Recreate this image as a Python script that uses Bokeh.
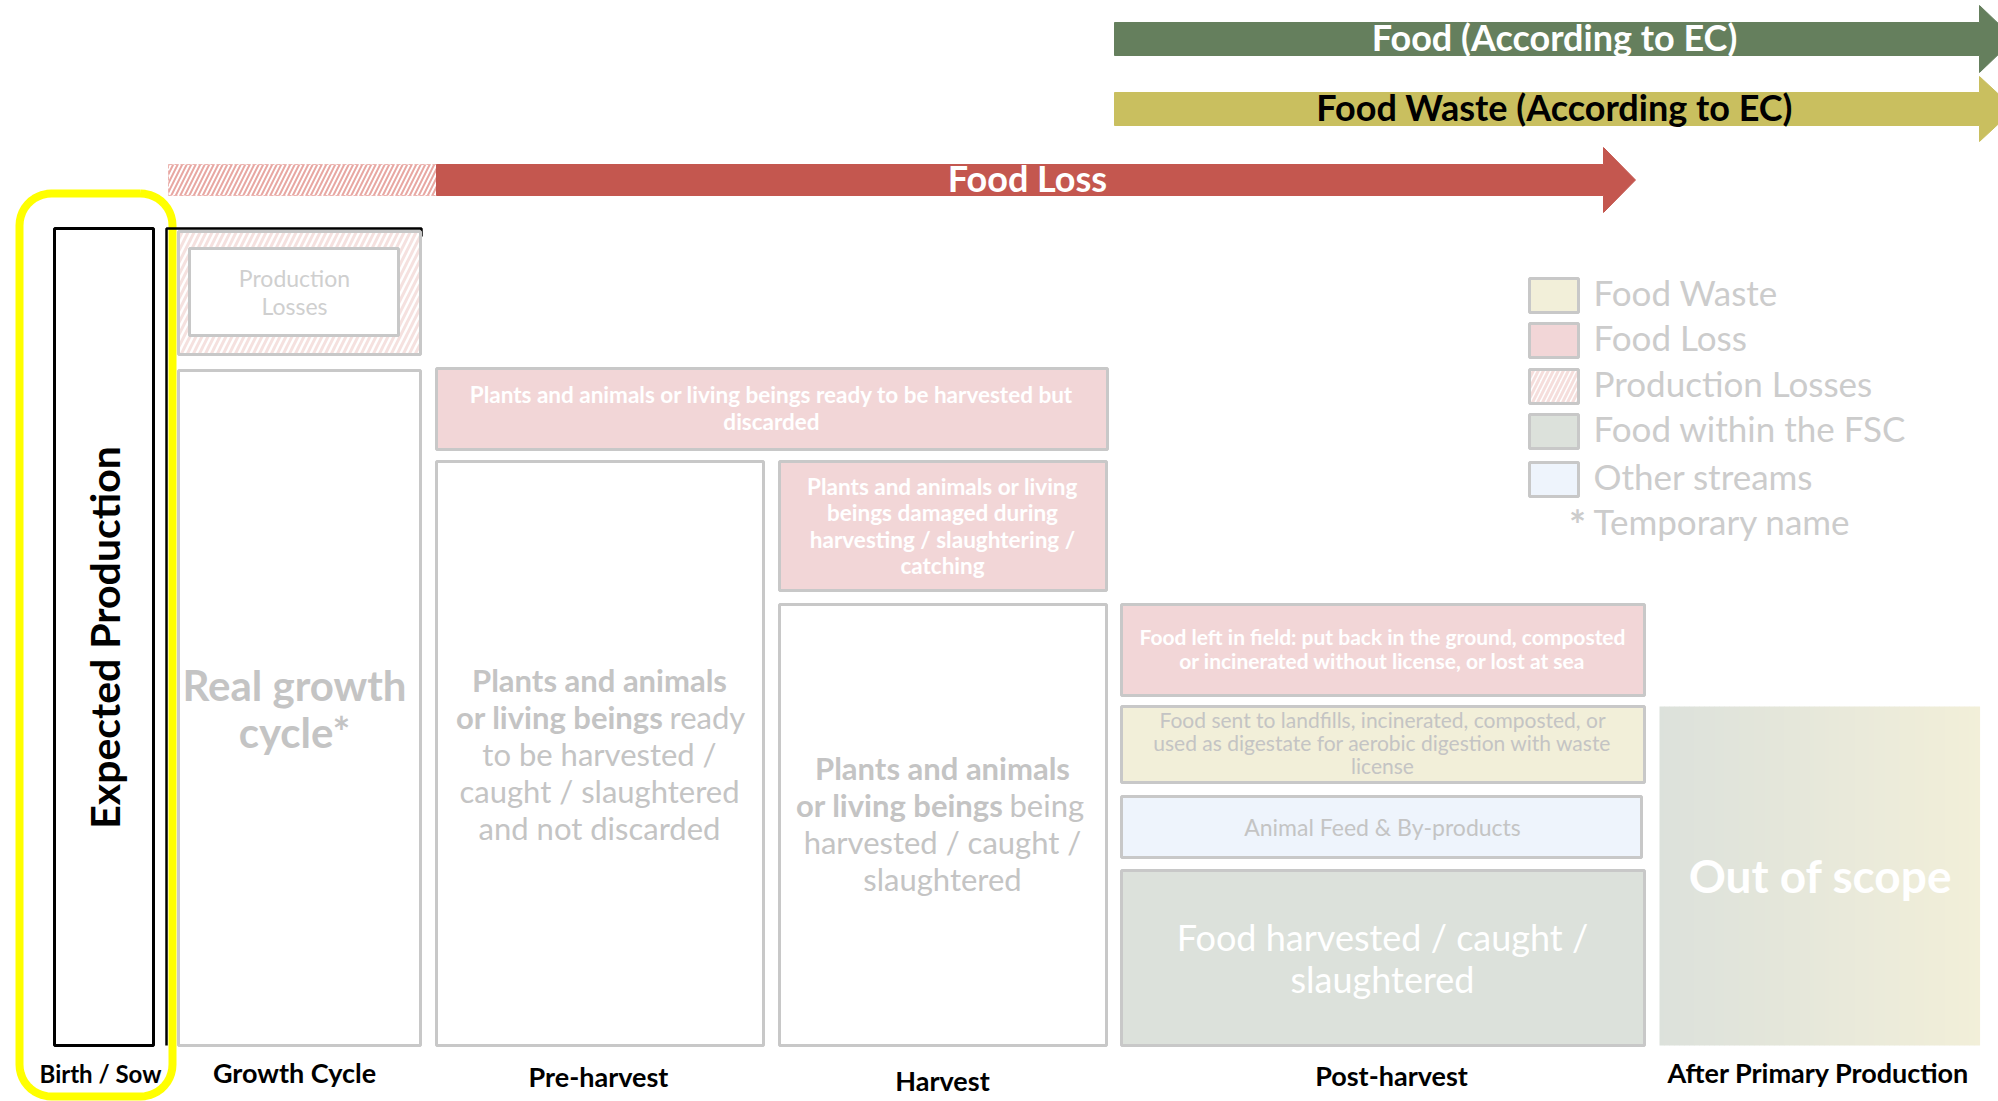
import numpy as np
from bokeh.plotting import figure
from bokeh.models import Range1d
from bokeh.core.properties import value
from bokeh.embed import file_html
from bokeh.resources import INLINE

# ---------------- content ----------------
stages = ["Birth / Sow", "Growth Cycle", "Pre-harvest", "Harvest", "Post-harvest", "After Primary Production"]
flow_labels = ["Food (According to EC)", "Food Waste (According to EC)", "Food Loss"]
legend_labels = ["Food Waste", "Food Loss", "Production Losses", "Food within the FSC", "Other streams"]
legend_note = "Temporary name"
expected_label = "Expected Production"
growth_lines = ["Real growth", "cycle*"]
prod_loss_lines = ["Production", "Losses"]
discard_lines = ["Plants and animals or living beings ready to be harvested but", "discarded"]
damaged_lines = ["Plants and animals or living", "beings damaged during", "harvesting / slaughtering /", "catching"]
left_field_lines = ["Food left in field: put back in the ground, composted", "or incinerated without license, or lost at sea"]
sent_lines = ["Food sent to landfills, incinerated, composted, or", "used as digestate for aerobic digestion with waste", "license"]
feed_label = "Animal Feed & By-products"
harvested_lines = ["Food harvested / caught /", "slaughtered"]
scope_label = "Out of scope"

# ---------------- styles ----------------
GREEN = "#657f5d"
OLIVE = "#c9bf5f"
RED = "#c4574f"
PINK = "#f2d6d7"
CREAM = "#f2efd9"
BLUE = "#eef4fc"
SAGE = "#dce1db"
GREY = "#c8c8c8"
TGREY = "#c4c4c4"
FONT = "Lato"

W, H = 1998, 1101
p = figure(width=W, height=H, output_backend="svg", toolbar_location=None,
           x_range=Range1d(0, W), y_range=Range1d(H, 0),
           x_axis_type=None, y_axis_type=None, min_border=0)
p.outline_line_color = None
p.background_fill_color = "white"
p.border_fill_color = "white"


def txt(x, y, s, size, color, bold=False, align="center", angle=0.0):
    p.text(x=[x], y=[y], text=[s], text_font=value(FONT),
           text_font_size=value(f"{size}px"), text_color=color,
           text_font_style="bold" if bold else "normal",
           text_align=align, text_baseline="middle", angle=angle)


def box(l, r, t, b, fill, line=GREY, lw=3, **kw):
    p.quad(left=[l], right=[r], top=[t], bottom=[b], fill_color=fill,
           line_color=line, line_width=lw, **kw)


def arrow(x0, x1, xt, yb0, yb1, yh0, yh1, color):
    xs = [x0, x1, x1, xt, x1, x1, x0]
    ys = [yb0, yb0, yh0, (yh0 + yh1) / 2, yh1, yb1, yb1]
    p.patch(xs, ys, fill_color=color, line_color=color, line_width=1)


# ---------------- flow arrows ----------------
arrow(1114, 1979, 2014, 22, 55, 5, 72, GREEN)
txt(1554, 36, flow_labels[0], 36, "white", bold=True)
arrow(1114, 1979, 2014, 92, 125, 76, 141, OLIVE)
txt(1554, 106, flow_labels[1], 36, "black", bold=True)
# hatched start of the food loss arrow
box(168, 436, 164, 195, "white", line="#ecb5b1", lw=1, line_dash="4 2",
    hatch_pattern="right_diagonal_line", hatch_color="#e8a7a2", hatch_weight=2, hatch_scale=9)
arrow(436, 1603, 1635, 164, 195, 147, 212, RED)
txt(1027, 177, flow_labels[2], 36, "white", bold=True)

# ---------------- birth / sow ----------------
def rounded(l, r, t, b, rad, n=12):
    xs, ys = [], []
    corners = [(r - rad, t + rad, -np.pi / 2, 0), (r - rad, b - rad, 0, np.pi / 2),
               (l + rad, b - rad, np.pi / 2, np.pi), (l + rad, t + rad, np.pi, 1.5 * np.pi)]
    for cx, cy, a0, a1 in corners:
        a = np.linspace(a0, a1, n)
        xs += list(cx + rad * np.cos(a))
        ys += list(cy + rad * np.sin(a))
    xs.append(xs[0]); ys.append(ys[0])
    return xs, ys

fx, fy = rounded(19, 172, 193, 1096, 32)
p.line(fx, fy, line_color="#ffff00", line_width=8)
box(54, 153, 228, 1045, "white", line="black", lw=3)
txt(104, 637, expected_label, 41, "black", bold=True, angle=np.pi / 2)

# ---------------- growth cycle ----------------
p.line([166, 166, 421, 421], [1045, 228, 228, 236], line_color="black", line_width=2.5)
box(178, 420, 231, 354, "white", line=GREY, lw=3,
    hatch_pattern="right_diagonal_line", hatch_color="#f5e1df", hatch_weight=3, hatch_scale=12)
box(189, 398, 248, 335, "white", line=GREY, lw=3)
txt(294, 277, prod_loss_lines[0], 23, "#cfcfcf")
txt(294, 305, prod_loss_lines[1], 23, "#cfcfcf")
box(178, 420, 370, 1045, "white")
txt(294, 684, growth_lines[0], 42, TGREY, bold=True)
txt(294, 731, growth_lines[1], 42, TGREY, bold=True)

# ---------------- pre-harvest / harvest ----------------
box(436, 1107, 368, 449, PINK)
txt(771, 394, discard_lines[0], 22.5, "white", bold=True)
txt(771, 421, discard_lines[1], 22.5, "white", bold=True)

box(436, 763, 461, 1045, "white")
txt(599, 679, "Plants and animals", 31, TGREY, bold=True)
txt(663, 716, "or living beings", 31, TGREY, bold=True, align="right")
txt(669, 716, "ready", 31, TGREY, align="left")
txt(599, 753, "to be harvested /", 31, TGREY)
txt(599, 790, "caught / slaughtered", 31, TGREY)
txt(599, 827, "and not discarded", 31, TGREY)

box(779, 1106, 461, 590, PINK)
for i, s in enumerate(damaged_lines):
    txt(942, 486 + 26.3 * i, s, 22.5, "white", bold=True)

box(779, 1106, 604, 1045, "white")
txt(942, 767, "Plants and animals", 31, TGREY, bold=True)
txt(1003, 804, "or living beings", 31, TGREY, bold=True, align="right")
txt(1009, 804, "being", 31, TGREY, align="left")
txt(942, 841, "harvested / caught /", 31, TGREY)
txt(942, 878, "slaughtered", 31, TGREY)

# ---------------- post-harvest ----------------
box(1121, 1644, 604, 695, PINK)
txt(1382, 636, left_field_lines[0], 21, "white", bold=True)
txt(1382, 660, left_field_lines[1], 21, "white", bold=True)
box(1121, 1644, 706, 782, CREAM)
for i, s in enumerate(sent_lines):
    txt(1382, 719 + 23 * i, s, 21, TGREY)
box(1121, 1641, 796, 857, BLUE)
txt(1382, 826, feed_label, 23, TGREY)
box(1121, 1644, 870, 1045, SAGE)
txt(1382, 936, harvested_lines[0], 36, "white")
txt(1382, 978, harvested_lines[1], 36, "white")

# ---------------- out of scope (horizontal gradient) ----------------
n = 64
edges = np.linspace(1659, 1979, n + 1)
c0 = np.array([0xdc, 0xe1, 0xdb]); c1 = np.array([0xf2, 0xef, 0xd9])
cols = ["#%02x%02x%02x" % tuple(int(round(v)) for v in c0 + (c1 - c0) * (i + 0.5) / n) for i in range(n)]
p.quad(left=edges[:-1], right=edges[1:] + 0.6, top=[706] * n, bottom=[1045] * n,
       fill_color=cols, line_color=None)
txt(1820, 875, scope_label, 46, "white", bold=True)

# ---------------- legend ----------------
leg_y = [295, 340, 386, 431, 479]
leg_fill = [CREAM, PINK, "white", SAGE, BLUE]
for i, (lab, yc, fc) in enumerate(zip(legend_labels, leg_y, leg_fill)):
    if lab == "Production Losses":
        box(1529, 1578, yc - 17, yc + 17, fc, line=GREY, lw=3,
            hatch_pattern="right_diagonal_line", hatch_color="#f5dedc", hatch_weight=3, hatch_scale=10)
    else:
        box(1529, 1578, yc - 17, yc + 17, fc, line=GREY, lw=3)
    txt(1593, yc - 4, lab, 35, "#cccccc", align="left")
txt(1577, 524, "*", 40, "#cccccc", bold=True)
txt(1593, 520, legend_note, 35, "#cccccc", align="left")

# ---------------- stage labels ----------------
stage_x = [100, 294, 598, 942, 1391, 1818]
stage_y = [1073, 1072, 1076, 1080, 1075, 1072]
stage_size = [24, 27, 27, 27, 27, 27]
for s, x, y, fs in zip(stages, stage_x, stage_y, stage_size):
    txt(x, y, s, fs, "black", bold=True)

open("out.html", "w").write(file_html(p, INLINE))
